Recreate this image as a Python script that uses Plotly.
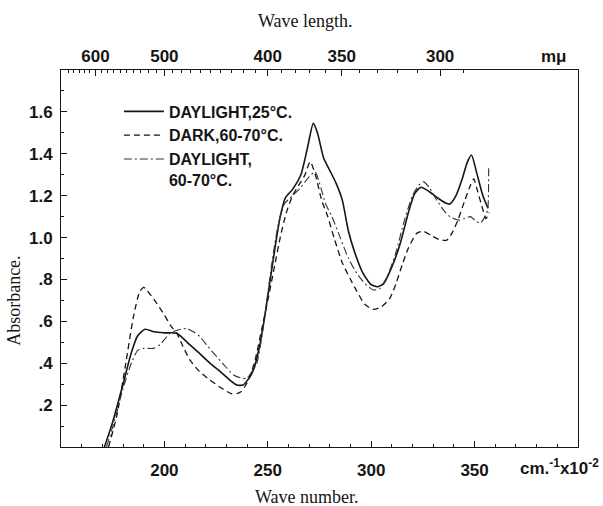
import plotly.graph_objects as go

# ---- data (wave number in cm^-1 x 10^-2, absorbance) ----
solid_x = [171, 175, 180, 184, 187, 190.6, 195, 200, 206, 211, 217, 222, 227, 231, 235, 238,
           241, 243, 246, 248, 250, 253, 256, 258.5, 262, 266, 269, 272, 274, 277, 280, 283,
           286, 289, 292, 296, 300, 303, 306, 310, 314, 318, 321, 324, 328, 332, 336, 338,
           341, 344, 346.5, 348.5, 351, 354, 356.5]
solid_y = [0.0, 0.12, 0.30, 0.45, 0.53, 0.562, 0.55, 0.545, 0.543, 0.50, 0.447, 0.40, 0.36, 0.325,
           0.296, 0.296, 0.33, 0.367, 0.48, 0.59, 0.72, 0.92, 1.10, 1.19, 1.23, 1.30, 1.42, 1.545,
           1.50, 1.38, 1.32, 1.26, 1.18, 1.03, 0.93, 0.83, 0.775, 0.765, 0.78, 0.86, 0.97, 1.12,
           1.21, 1.24, 1.22, 1.19, 1.165, 1.16, 1.20, 1.28, 1.36, 1.394, 1.31, 1.20, 1.14]

dark_x = [173, 177, 181, 185, 188, 190, 193, 196.3, 200, 203, 206, 209, 212.4, 217, 222, 227,
          232, 235, 237, 239, 241.4, 244, 247, 250, 253, 256, 259, 262, 265, 268, 270.5, 273,
          276, 279, 282, 286, 290, 293, 297, 301, 305, 309, 312, 315, 318, 322, 325.3, 329,
          333, 336.6, 339, 342, 345, 348, 349.6, 351.5, 353.6, 355.5, 357]
dark_y = [0.0, 0.15, 0.38, 0.62, 0.74, 0.762, 0.73, 0.686, 0.63, 0.58, 0.543, 0.48, 0.415, 0.36,
          0.32, 0.285, 0.256, 0.255, 0.264, 0.29, 0.336, 0.42, 0.56, 0.70, 0.85, 1.00, 1.12, 1.20,
          1.25, 1.30, 1.362, 1.30, 1.18, 1.10, 1.00, 0.88, 0.80, 0.745, 0.68, 0.657, 0.67, 0.71,
          0.78, 0.87, 0.95, 1.02, 1.03, 1.01, 0.99, 0.988, 1.02, 1.085, 1.17, 1.25, 1.28, 1.22,
          1.147, 1.09, 1.12]

day70_x = [172, 176, 180, 184, 187, 190, 194.7, 198, 202.7, 207, 210.8, 214, 217.2, 221, 225.3,
           229, 233.4, 237, 239.8, 242, 244.7, 247, 249, 252, 255, 258, 262, 266, 270, 272.9,
           275, 278, 281, 285, 289, 293, 297, 301, 304, 308, 312, 316, 320, 323, 325.3, 328,
           331, 335, 338, 342.3, 345, 348, 350.5, 352.7, 355, 356.3, 356.8]
day70_y = [0.0, 0.13, 0.28, 0.40, 0.46, 0.471, 0.471, 0.49, 0.543, 0.56, 0.566, 0.55, 0.527, 0.48,
           0.431, 0.39, 0.344, 0.33, 0.328, 0.355, 0.40, 0.52, 0.66, 0.88, 1.06, 1.16, 1.20, 1.24,
           1.29, 1.314, 1.26, 1.16, 1.10, 1.00, 0.90, 0.83, 0.78, 0.75, 0.755, 0.82, 0.93, 1.08,
           1.20, 1.25, 1.266, 1.24, 1.19, 1.131, 1.10, 1.083, 1.09, 1.10, 1.08, 1.068, 1.10, 1.13,
           1.338]

series_names = ["DAYLIGHT,25°C.", "DARK,60-70°C.", "DAYLIGHT,<br>60-70°C."]

x_ticks = [200, 250, 300, 350]
y_ticks = [0.2, 0.4, 0.6, 0.8, 1.0, 1.2, 1.4, 1.6]
y_ticktext = [".2", ".4", ".6", ".8", "1.0", "1.2", "1.4", "1.6"]
wl_major = [600, 500, 400, 350, 300]
wl_minor = list(range(290, 660, 10))

def wl_to_wn(l):
    return 1e5 / l

INK = "#151515"
sans = dict(family="Liberation Sans", size=17, color=INK, weight="bold")
serif = dict(family="Liberation Serif", size=18, color=INK)

fig = go.Figure()
fig.add_trace(go.Scatter(x=solid_x, y=solid_y, mode="lines", name=series_names[0],
                         line=dict(color=INK, width=1.6, shape="spline", smoothing=0.6)))
fig.add_trace(go.Scatter(x=dark_x, y=dark_y, mode="lines", name=series_names[1],
                         line=dict(color=INK, width=1.3, dash="6px,4px", shape="spline", smoothing=0.6)))
fig.add_trace(go.Scatter(x=day70_x, y=day70_y, mode="lines", name=series_names[2],
                         line=dict(color="#333333", width=1.1, dash="8px,3px,2px,3px",
                                   shape="spline", smoothing=0.6)))
fig.add_trace(go.Scatter(x=[], y=[], xaxis="x2", showlegend=False, hoverinfo="skip"))
fig.add_trace(go.Scatter(x=[], y=[], xaxis="x3", showlegend=False, hoverinfo="skip"))

XR = [150, 400]
fig.update_layout(
    width=603, height=506,
    margin=dict(l=61, r=25, t=70, b=59),
    paper_bgcolor="white", plot_bgcolor="white",
    showlegend=True,
    legend=dict(x=0.112, y=0.935, xanchor="left", yanchor="top", bgcolor="rgba(0,0,0,0)",
                font=dict(family="Liberation Sans", size=16, color=INK, weight="bold"),
                valign="top", tracegroupgap=0, itemwidth=40),
    xaxis=dict(range=XR, tickmode="array", tickvals=x_ticks, ticks="inside", ticklen=6,
               tickcolor=INK, showline=True, linecolor=INK, linewidth=1.2, showgrid=False,
               zeroline=False, tickfont=sans, ticklabelstandoff=7,
               minor=dict(tickmode="linear", tick0=150, dtick=10, ticks="inside", ticklen=3,
                          tickcolor=INK, showgrid=False)),
    xaxis2=dict(range=XR, overlaying="x", side="top", anchor="y", tickmode="array",
                tickvals=[wl_to_wn(l) for l in wl_major], ticktext=[str(l) for l in wl_major],
                ticks="inside", ticklen=6, tickcolor=INK, showline=True, linecolor=INK,
                linewidth=1.2, showgrid=False, zeroline=False, tickfont=sans,
                ticklabelstandoff=0),
    xaxis3=dict(range=XR, overlaying="x", side="top", anchor="y", tickmode="array",
                tickvals=[wl_to_wn(l) for l in wl_minor], ticks="inside", ticklen=3,
                tickcolor=INK, showticklabels=False, showline=False, showgrid=False,
                zeroline=False),
    yaxis=dict(range=[0, 1.8], tickmode="array", tickvals=y_ticks, ticktext=y_ticktext,
               ticks="inside", ticklen=6, tickcolor=INK, showline=True, linecolor=INK,
               linewidth=1.0, mirror=True, showgrid=False, zeroline=False, tickfont=sans,
               ticklabelstandoff=4,
               minor=dict(tickmode="linear", tick0=0, dtick=0.1, ticks="inside", ticklen=3,
                          tickcolor=INK, showgrid=False)),
    annotations=[
        dict(text="Wave length.", xref="paper", yref="paper", x=0.472, y=1.13,
             showarrow=False, font=serif, xanchor="center", yanchor="middle"),
        dict(text="Wave number.", xref="paper", yref="paper", x=0.475, y=-0.133,
             showarrow=False, font=serif, xanchor="center", yanchor="middle"),
        dict(text="Absorbance.", xref="paper", yref="y", x=-0.09, y=0.7, textangle=-90,
             showarrow=False, font=serif, xanchor="center", yanchor="middle"),
        dict(text="mμ", xref="x", yref="paper", x=388.5, y=1.0, yshift=14,
             showarrow=False, font=sans, xanchor="center", yanchor="middle"),
        dict(text="cm.<sup>-1</sup>x10<sup>-2</sup>", xref="x", yref="paper", x=391, y=0.0,
             yshift=-20, showarrow=False, font=sans, xanchor="center", yanchor="middle"),
    ],
)

fig.write_html("out.html")
